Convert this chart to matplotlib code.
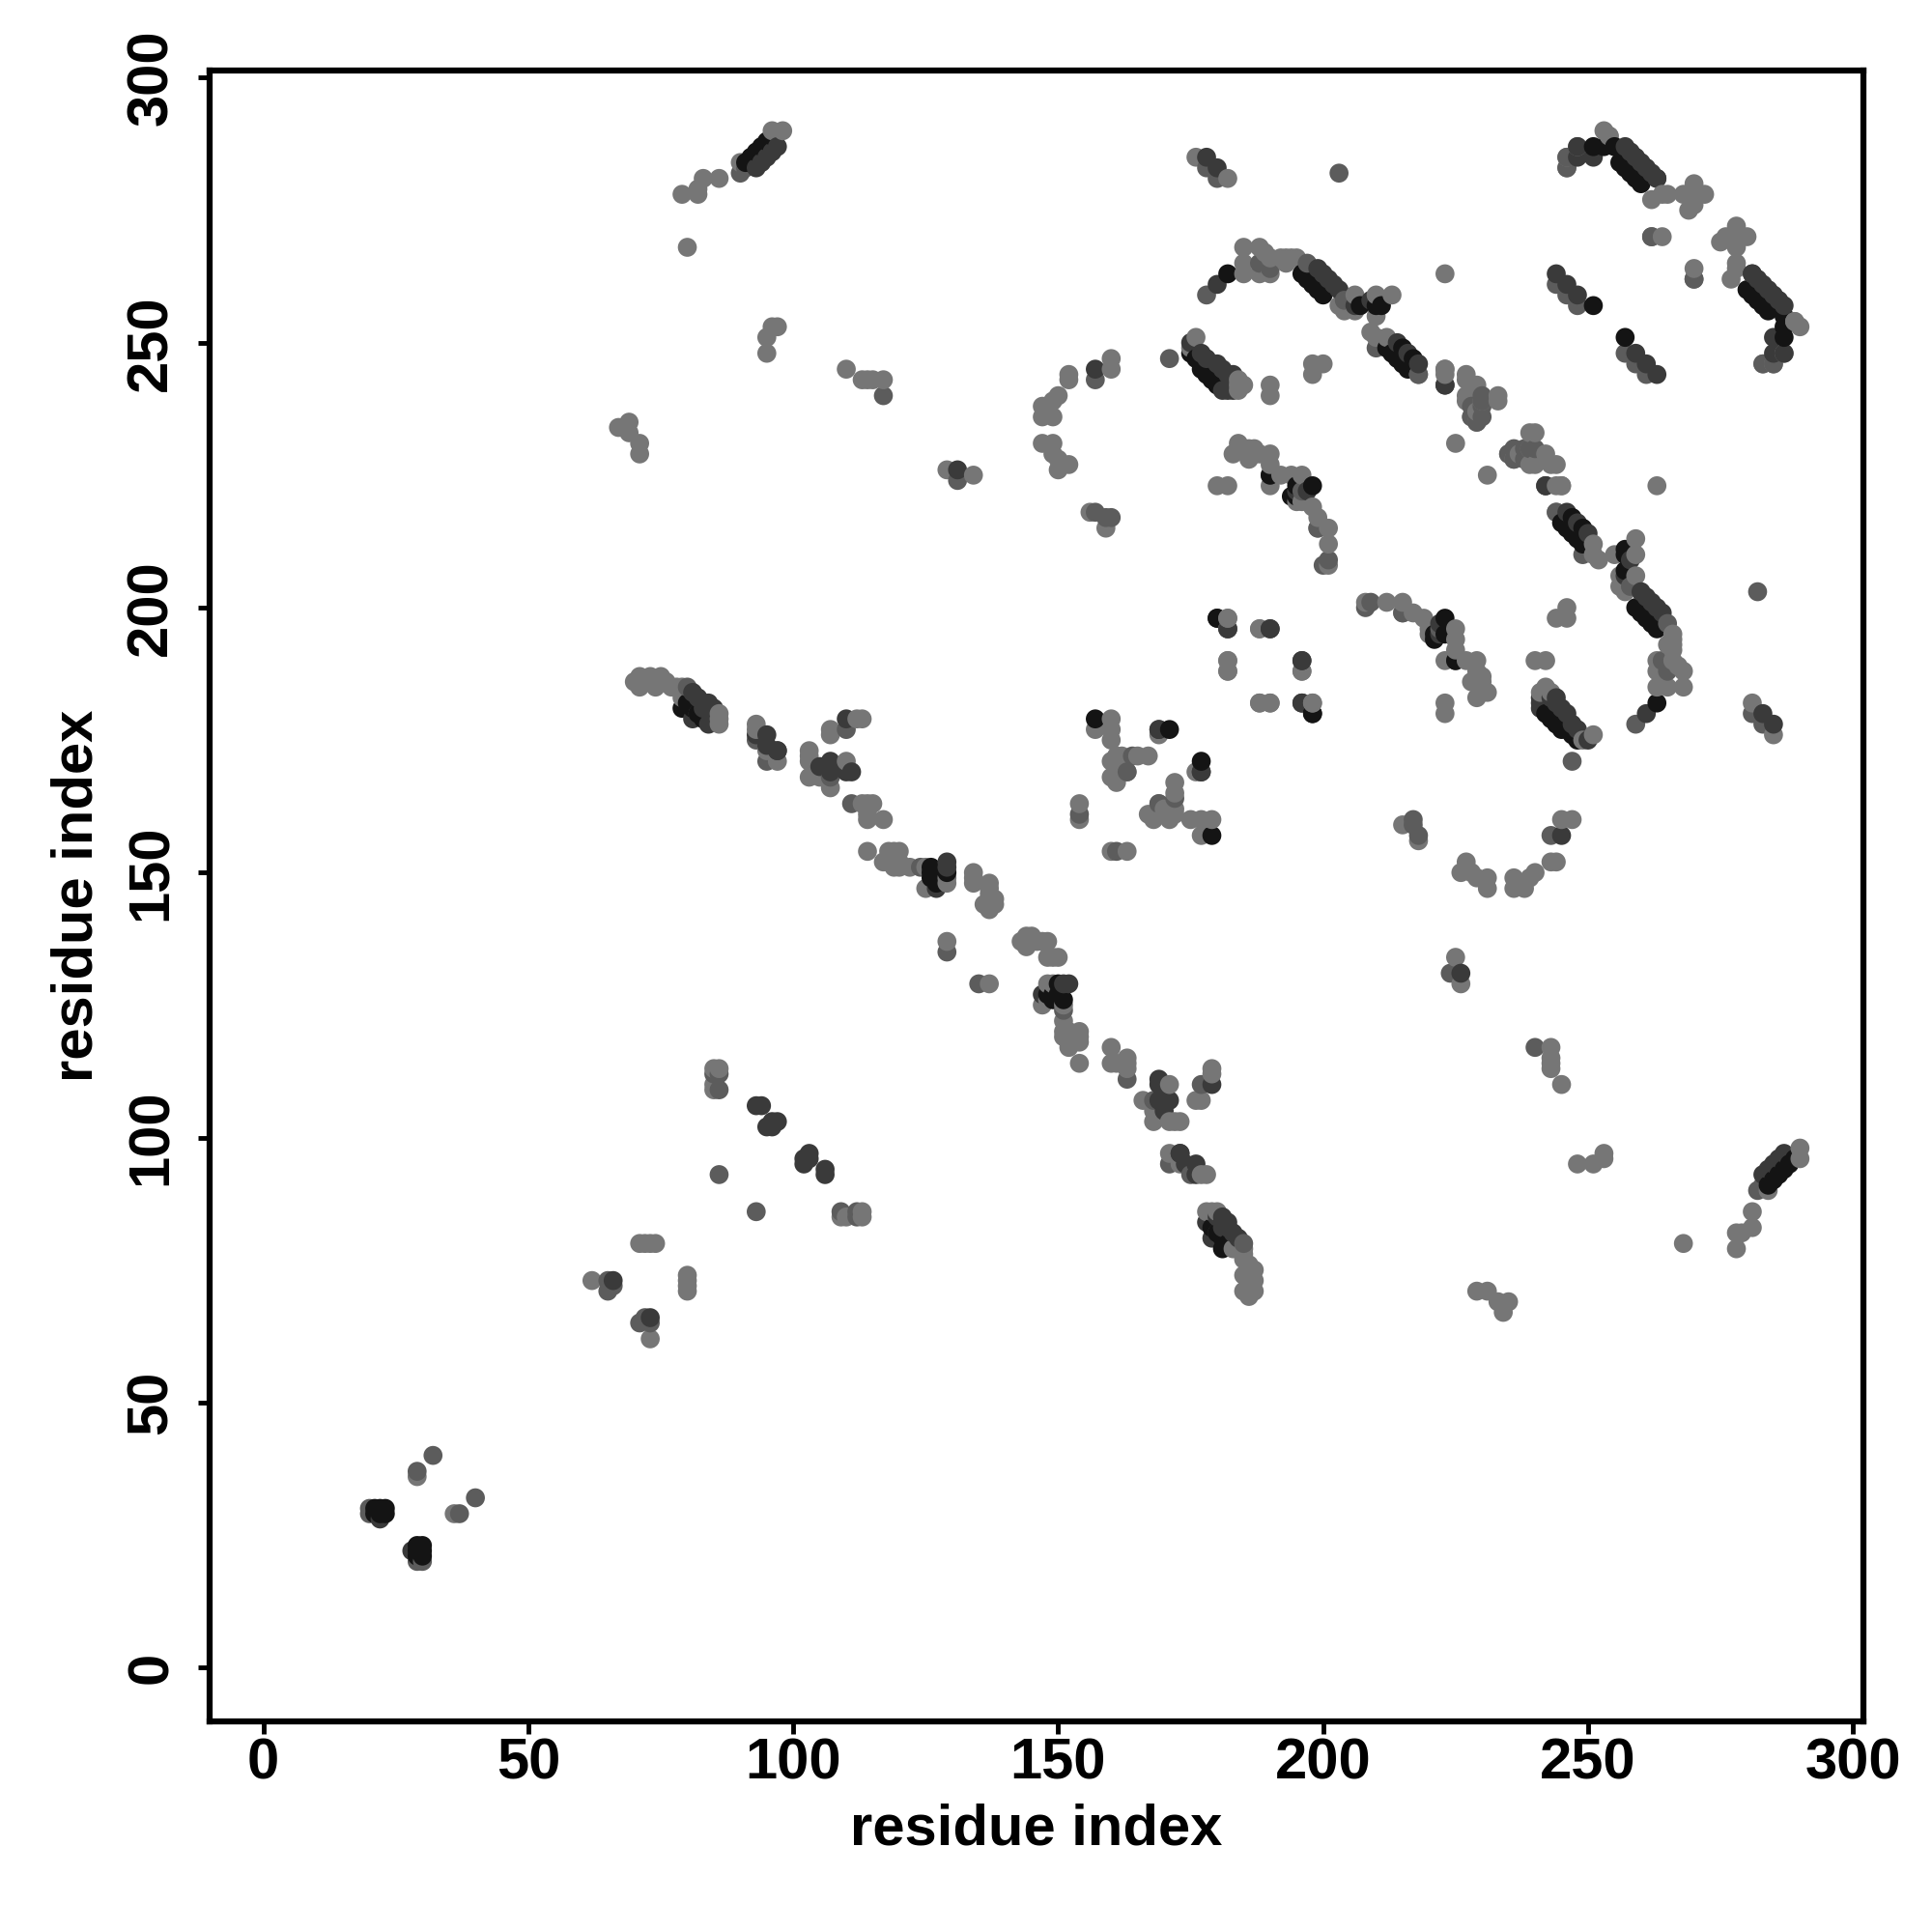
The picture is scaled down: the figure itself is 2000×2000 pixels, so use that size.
import matplotlib
matplotlib.use("Agg")
import matplotlib.pyplot as plt

contacts_light = [(29,36),(62,73),(71,80),(72,80),(73,80),(74,80),(85,109),(85,113),(86,113),(85,110),
(70,186),(71,185),(71,187),(72,186),(73,187),(73,186),(74,185),(75,186),(75,187),(76,186),(77,185),(78,185),(79,185),(79,183),
(86,180),(86,179),(86,178),(93,178),(93,177),(95,173),(97,171),(103,173),(103,172),(103,171),(103,168),(105,168),
(107,177),(107,176),(107,166),(110,171),(112,179),(113,179),(113,163),(114,163),(115,163),(114,161),(114,160),(117,160),
(114,154),(118,154),(119,154),(120,154),(120,152),(120,151),(125,151),(119,151),(122,151),(126,148),(129,149),(129,148),(125,147),
(134,150),(134,149),(134,148),(137,148),(137,147),(137,146),(138,145),(137,144),(138,144),(137,143),(136,144),(129,137),
(79,278),(80,268),(82,279),(83,281),(82,278),(86,281),(98,290),(96,290),(90,284),(95,248),(95,251),(96,253),(97,253),
(110,245),(113,243),(114,243),(115,243),(117,243),(129,226),(134,225),(67,234),(69,235),(69,233),(71,231),(71,229),
(117,152),(118,152),(154,163),(154,160),(160,171),(161,167),(160,168),(161,170),(161,172),(162,172),(165,172),(167,172),(163,169),(160,175),(162,170),
(157,177),(160,177),(160,179),(169,176),
(147,231),(149,231),(149,229),(150,228),(150,226),(152,227),(152,244),(152,243),(150,240),(149,239),(147,238),(147,236),(149,236),(160,247),(160,245),
(159,215),(156,218),(175,249),(176,251),(184,242),(185,242),(184,241),(190,242),(198,244),(198,246),(200,246),
(176,285),(182,281),(185,268),(188,268),(185,265),(185,263),(188,263),(190,263),(189,267),(190,266),(192,266),(193,266),(194,266),(195,266),(193,265),
(206,259),(203,257),(204,256),(206,256),(210,259),(213,259),(209,252),(210,251),(212,251),(210,255),
(218,244),(223,245),(223,244),(223,263),(227,244),(229,242),(227,240),(233,240),(229,237),(233,239),(229,235),(230,239),(227,239),(227,243),(228,236),
(242,223),(245,223),(225,231),
(253,290),(254,289),(248,287),(246,285),(246,283),(262,277),(264,278),(268,278),(270,280),(272,278),(270,277),(269,275),(270,276),(264,270),
(265,278),(289,254),
(183,229),(184,231),(186,230),(186,228),(187,230),(188,229),(190,229),(190,227),(190,223),(192,225),(194,225),(196,225),(182,223),(180,223),
(195,220),(198,219),(196,220),(199,217),(199,215),(201,215),(201,212),(201,208),
(182,198),(182,196),(188,196),(182,190),(182,188),(196,188),(188,182),(190,182),(198,182),(243,184),(240,190)]

contacts_mid = [(20,30),(20,29),(29,37),(32,40),(65,73),(65,71),(66,72),(85,112),(86,112),(86,109),(86,93),
(80,185),(93,175),(95,171),(107,168),(110,177),(111,163),(124,151),(129,135),
(91,283),(90,282),(117,240),(131,224),(154,161),(169,163),(172,164),(157,243),(159,217),(160,217),(157,218),(178,259),(171,247),
(178,283),(180,281),(203,282),(188,265),(190,264),(197,265),(204,258),(210,249),(218,244),(223,242),(230,240),(230,238),(228,238),(239,230),(236,228),(235,229),(230,236),
(244,261),(246,259),(248,257),(262,270),(270,262),(190,225),(200,208),(201,209),(196,222),(196,182),
(283,246),(285,246),(199,215)]

contacts_dark = [(22,28),(66,73),(94,106),(93,106),(96,103),(95,102),(96,102),(97,103),(82,183),(83,182),(84,181),(85,180),(81,184),(83,181),(84,178),(85,181),(84,182),(93,176),(95,176),(95,174),(97,173),
(107,171),(107,170),(107,169),(105,170),(110,179),(111,169),(110,169),(129,151),(129,152),(127,147),(131,226),(157,245),(175,250),(178,285),(180,283),
(180,261),(199,264),(200,263),(201,262),(202,261),(203,260),(206,257),(214,250),(216,248),(218,246),(223,242),(244,263),(246,261),(248,259),(281,263),(261,283),(263,281),(262,282),(251,285),(285,248),(287,248),
(177,248),(178,247),(180,246),(181,245),(182,244),(183,244),(183,243),(181,241),(183,241),(190,196),(196,190),(196,182),(173,97),(169,177),(177,169),(182,241),
(93,283),(94,284),(95,285),(96,286),(97,287),(257,287),(258,286),(259,285),(260,284),
(179,81),(180,82),(195,222),(197,222),(209,258)]

contacts_black = [(21,30),(22,29),(22,30),(23,30),(23,29),(21,29),(91,284),(92,285),(93,286),(94,287),(95,288),(96,289),
(79,181),(80,182),(81,181),(82,180),(83,179),
(126,150),(127,150),(127,149),(126,149),(127,148),(129,150),(126,151),(171,177),(157,179),(175,248),(176,247),(177,246),(177,245),(178,244),(179,243),(180,242),
(182,263),(198,223),(195,223),(194,221),(195,221),(196,263),(197,262),(198,261),(199,260),(200,259),(210,257),(211,257),(207,257),(213,248),(214,247),(215,246),(216,245),(212,249),(215,249),(217,247),
(251,287),(253,287),(255,287),(256,284),(257,283),(258,282),(259,281),(260,280),(251,257),(180,198),(198,180),(190,225)]

# tick labels
ticks = [0, 50, 100, 150, 200, 250, 300]

shade_light, shade_mid, shade_dark, shade_black = "#767676", "#5c5c5c", "#3a3a3a", "#141414"

rows = []
for pairs, shade in ((contacts_light, shade_light), (contacts_mid, shade_mid),
                     (contacts_dark, shade_dark), (contacts_black, shade_black)):
    for i, j in pairs:
        rows.append((i, j, shade))
        rows.append((j, i, shade))
rows.sort(key=lambda r: (r[0], r[1]))

plt.rcParams["font.family"] = ["Liberation Sans", "DejaVu Sans"]
fig = plt.figure(figsize=(20, 20), dpi=100)
ax = fig.add_axes([0.1084, 0.109, 0.8559, 0.8546])
ax.scatter([r[0] for r in rows], [r[1] for r in rows], c=[r[2] for r in rows],
           s=200, linewidths=0, zorder=2)
ax.set_xlim(-10.2, 301.9)
ax.set_ylim(-10.2, 301.4)
ax.set_xticks(ticks)
ax.set_yticks(ticks)
ax.tick_params(length=9, width=3.5, labelsize=43)
ax.tick_params(axis="x", pad=3)
ax.tick_params(axis="y", pad=14)
for t in ax.get_xticklabels():
    t.set_fontweight("bold")
for t in ax.get_yticklabels():
    t.set_fontweight("bold")
    t.set_rotation(90)
    t.set_va("center")
for s in ax.spines.values():
    s.set_linewidth(4.5)
ax.set_xlabel("residue index", fontsize=43, fontweight="bold", labelpad=9)
ax.set_ylabel("residue index", fontsize=43, fontweight="bold", labelpad=16)
fig.savefig("out.png", dpi=100, facecolor="white")
